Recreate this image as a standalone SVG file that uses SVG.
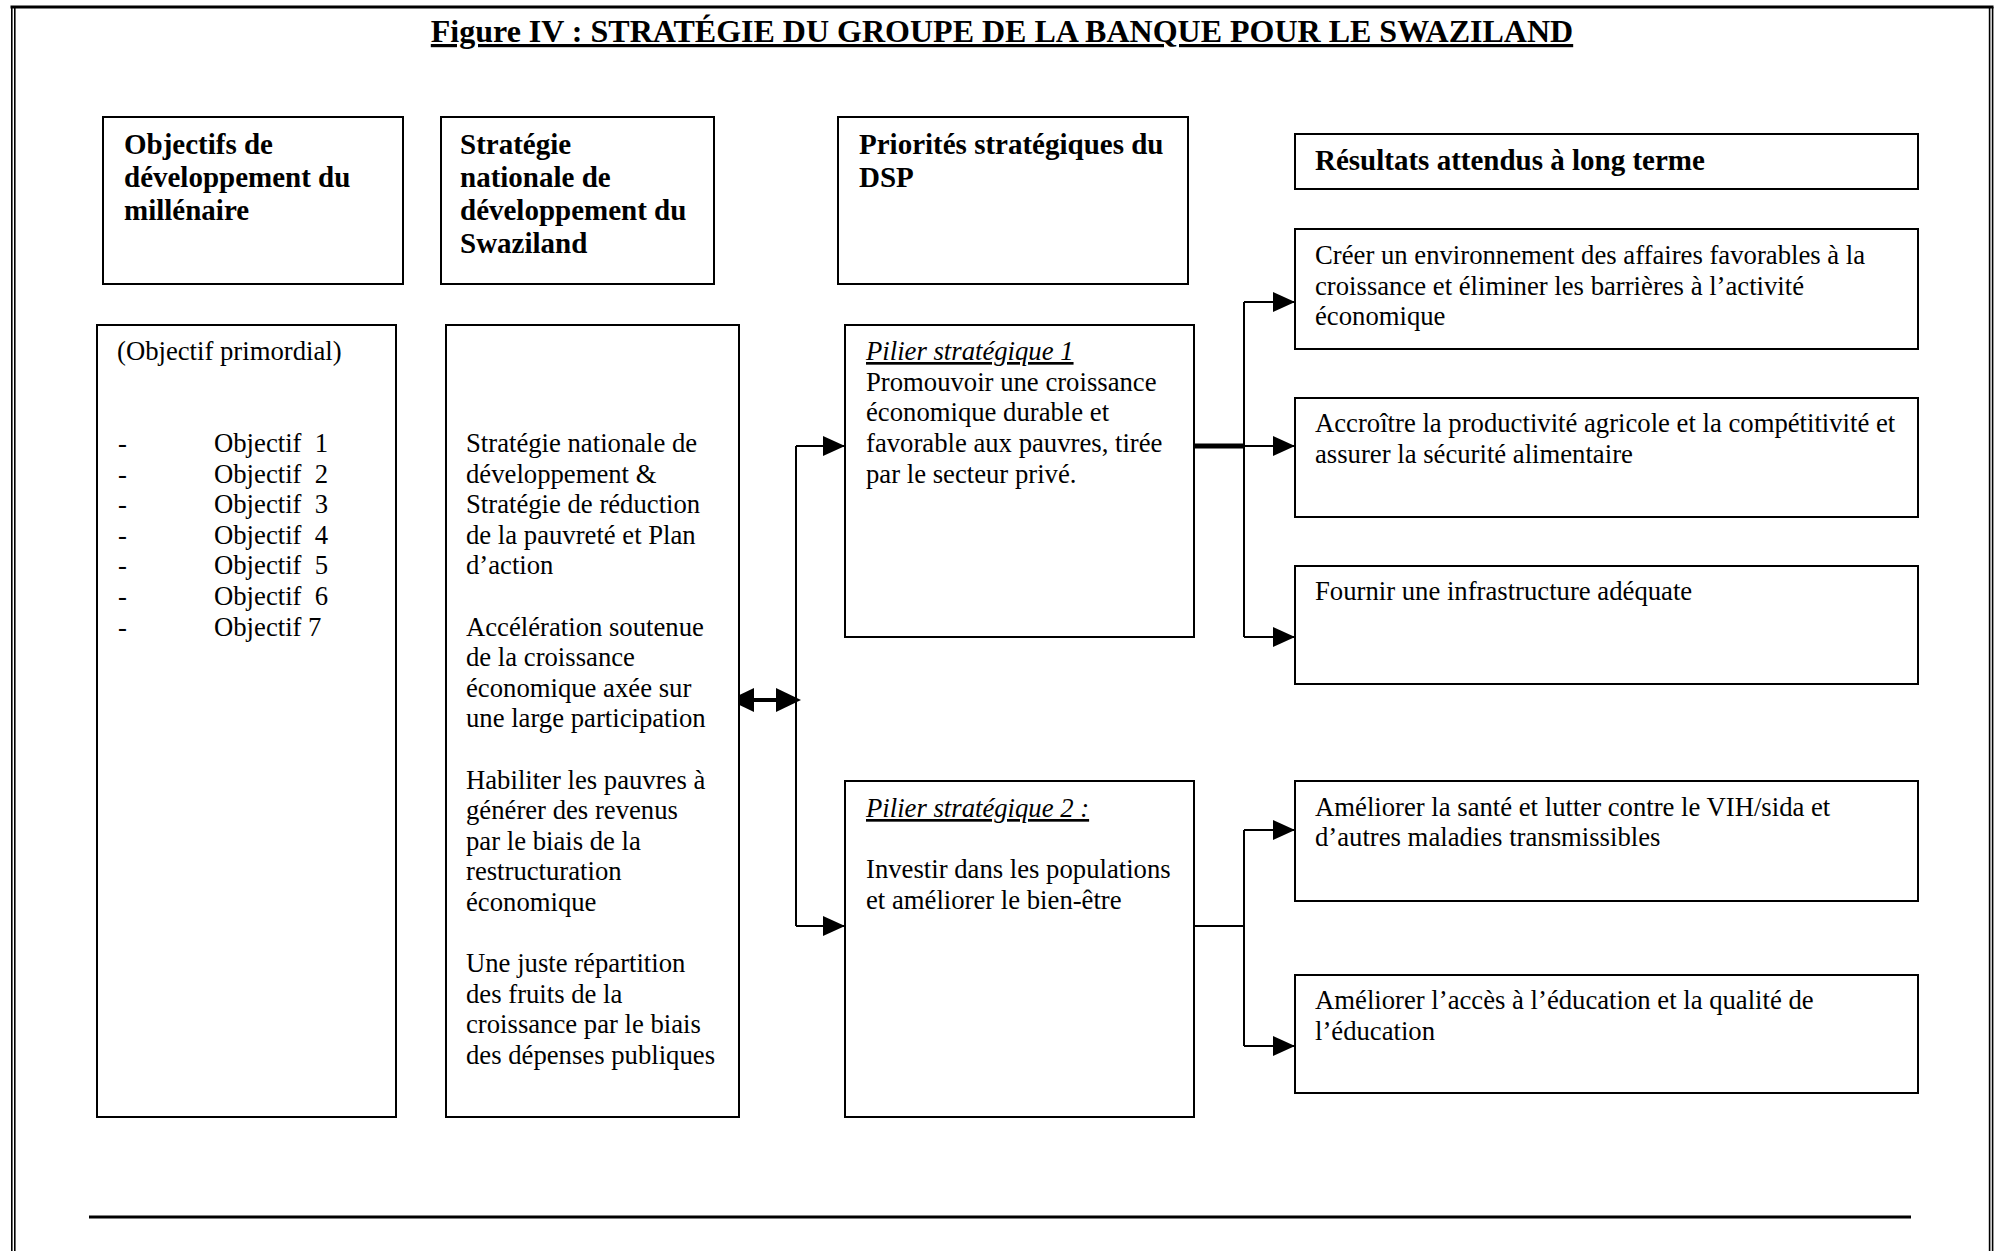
<svg xmlns="http://www.w3.org/2000/svg" width="1998" height="1251" viewBox="0 0 1998 1251">
<style>
  .bg{fill:#fff}
  .box{fill:#fff;stroke:#000;stroke-width:2}
  .frame{fill:none;stroke:#000}
  .conn{fill:none;stroke:#000;stroke-width:2}
  .conn.thick{stroke-width:5}
  .conn.dbl{stroke-width:4}
  .serif{font-family:"Liberation Serif","Times New Roman",serif;fill:#000}
  .title{font-size:32px;font-weight:bold;text-decoration:underline}
  .h{font-size:29px;font-weight:bold}
  .t{font-size:26.7px}
  .pil{font-style:italic;text-decoration:underline}
</style>
<defs>
  <marker id="arr" markerUnits="userSpaceOnUse" viewBox="0 0 22 20" markerWidth="22" markerHeight="20" refX="22" refY="10" orient="auto">
    <path d="M0,0 L22,10 L0,20 z" fill="#000"/>
  </marker>
  <marker id="big" markerUnits="userSpaceOnUse" viewBox="0 0 25 24" markerWidth="25" markerHeight="24" refX="0" refY="12" orient="auto-start-reverse">
    <path d="M0,0 L25,12 L0,24 z" fill="#000"/>
  </marker>
</defs>
<rect class="bg" x="0" y="0" width="1998" height="1251"/>

<g id="frame">
  <path class="frame" stroke-width="3" d="M10.5,7 H1993.5"/>
  <path class="frame" stroke-width="1.6" d="M11.8,7 V1251 M14.8,7 V1251 M1989.6,7 V1251 M1992.6,7 V1251"/>
  <path class="frame" stroke-width="3.2" d="M89,1217 H1911"/>
</g>

<g id="title">
  <text class="serif title" x="1002" y="42" text-anchor="middle">Figure IV : STRATÉGIE DU GROUPE DE LA BANQUE POUR LE SWAZILAND</text>
</g>

<g id="connectors">
  <path class="conn dbl" d="M754,700 H776" marker-start="url(#big)" marker-end="url(#big)"/>
  <path class="conn" d="M796,446 V926"/>
  <path class="conn" d="M796,446 H845" marker-end="url(#arr)"/>
  <path class="conn" d="M796,926 H845" marker-end="url(#arr)"/>
  <path class="conn thick" d="M1194,446 H1244"/>
  <path class="conn" d="M1244,302 V637"/>
  <path class="conn" d="M1244,302 H1295" marker-end="url(#arr)"/>
  <path class="conn" d="M1244,446 H1295" marker-end="url(#arr)"/>
  <path class="conn" d="M1244,637 H1295" marker-end="url(#arr)"/>
  <path class="conn" d="M1194,926 H1244"/>
  <path class="conn" d="M1244,830 V1046"/>
  <path class="conn" d="M1244,830 H1295" marker-end="url(#arr)"/>
  <path class="conn" d="M1244,1046 H1295" marker-end="url(#arr)"/>
</g>

<g id="hdr-omd">
  <rect class="box" x="103" y="117" width="300" height="167"/>
  <text class="serif h"><tspan x="124" y="154">Objectifs de</tspan><tspan x="124" y="187">développement du</tspan><tspan x="124" y="220">millénaire</tspan></text>
</g>
<g id="hdr-snd">
  <rect class="box" x="441" y="117" width="273" height="167"/>
  <text class="serif h"><tspan x="460" y="154">Stratégie</tspan><tspan x="460" y="187">nationale de</tspan><tspan x="460" y="220">développement du</tspan><tspan x="460" y="253">Swaziland</tspan></text>
</g>
<g id="hdr-dsp">
  <rect class="box" x="838" y="117" width="350" height="167"/>
  <text class="serif h"><tspan x="859" y="154">Priorités stratégiques du</tspan><tspan x="859" y="187">DSP</tspan></text>
</g>
<g id="hdr-res">
  <rect class="box" x="1295" y="134" width="623" height="55"/>
  <text class="serif h" x="1315" y="170">Résultats attendus à long terme</text>
</g>

<g id="omd-list">
  <rect class="box" x="97" y="325" width="299" height="792"/>
  <text class="serif t" x="117" y="360">(Objectif primordial)</text>
  <text class="serif t" xml:space="preserve"><tspan x="118" y="452">-</tspan><tspan x="214" y="452">Objectif  1</tspan><tspan x="118" y="482.6">-</tspan><tspan x="214" y="482.6">Objectif  2</tspan><tspan x="118" y="513.2">-</tspan><tspan x="214" y="513.2">Objectif  3</tspan><tspan x="118" y="543.8">-</tspan><tspan x="214" y="543.8">Objectif  4</tspan><tspan x="118" y="574.4">-</tspan><tspan x="214" y="574.4">Objectif  5</tspan><tspan x="118" y="605">-</tspan><tspan x="214" y="605">Objectif  6</tspan><tspan x="118" y="635.6">-</tspan><tspan x="214" y="635.6">Objectif 7</tspan></text>
</g>

<g id="snd-body">
  <rect class="box" x="446" y="325" width="293" height="792"/>
  <text class="serif t">
    <tspan x="466" y="452">Stratégie nationale de</tspan>
    <tspan x="466" y="482.6">développement &amp;</tspan>
    <tspan x="466" y="513.2">Stratégie de réduction</tspan>
    <tspan x="466" y="543.8">de la pauvreté et Plan</tspan>
    <tspan x="466" y="574.4">d’action</tspan>
    <tspan x="466" y="635.6">Accélération soutenue</tspan>
    <tspan x="466" y="666.2">de la croissance</tspan>
    <tspan x="466" y="696.8">économique axée sur</tspan>
    <tspan x="466" y="727.4">une large participation</tspan>
    <tspan x="466" y="788.6">Habiliter les pauvres à</tspan>
    <tspan x="466" y="819.2">générer des revenus</tspan>
    <tspan x="466" y="849.8">par le biais de la</tspan>
    <tspan x="466" y="880.4">restructuration</tspan>
    <tspan x="466" y="911">économique</tspan>
    <tspan x="466" y="972.2">Une juste répartition</tspan>
    <tspan x="466" y="1002.8">des fruits de la</tspan>
    <tspan x="466" y="1033.4">croissance par le biais</tspan>
    <tspan x="466" y="1064">des dépenses publiques</tspan>
  </text>
</g>

<g id="pilier1">
  <rect class="box" x="845" y="325" width="349" height="312"/>
  <text class="serif t pil" x="866" y="360">Pilier stratégique 1</text>
  <text class="serif t"><tspan x="866" y="390.8">Promouvoir une croissance</tspan><tspan x="866" y="421.4">économique durable et</tspan><tspan x="866" y="452">favorable aux pauvres, tirée</tspan><tspan x="866" y="482.6">par le secteur privé.</tspan></text>
</g>

<g id="pilier2">
  <rect class="box" x="845" y="781" width="349" height="336"/>
  <text class="serif t pil" x="866" y="817">Pilier stratégique 2 :</text>
  <text class="serif t"><tspan x="866" y="878">Investir dans les populations</tspan><tspan x="866" y="908.6">et améliorer le bien-être</tspan></text>
</g>

<g id="res1">
  <rect class="box" x="1295" y="229" width="623" height="120"/>
  <text class="serif t"><tspan x="1315" y="264">Créer un environnement des affaires favorables à la</tspan><tspan x="1315" y="294.6">croissance et éliminer les barrières à l’activité</tspan><tspan x="1315" y="325.2">économique</tspan></text>
</g>
<g id="res2">
  <rect class="box" x="1295" y="398" width="623" height="119"/>
  <text class="serif t"><tspan x="1315" y="432">Accroître la productivité agricole et la compétitivité et</tspan><tspan x="1315" y="462.6">assurer la sécurité alimentaire</tspan></text>
</g>
<g id="res3">
  <rect class="box" x="1295" y="566" width="623" height="118"/>
  <text class="serif t" x="1315" y="600">Fournir une infrastructure adéquate</text>
</g>
<g id="res4">
  <rect class="box" x="1295" y="781" width="623" height="120"/>
  <text class="serif t"><tspan x="1315" y="815.5">Améliorer la santé et lutter contre le VIH/sida et</tspan><tspan x="1315" y="846.1">d’autres maladies transmissibles</tspan></text>
</g>
<g id="res5">
  <rect class="box" x="1295" y="975" width="623" height="118"/>
  <text class="serif t"><tspan x="1315" y="1009">Améliorer l’accès à l’éducation et la qualité de</tspan><tspan x="1315" y="1039.6">l’éducation</tspan></text>
</g>
</svg>
